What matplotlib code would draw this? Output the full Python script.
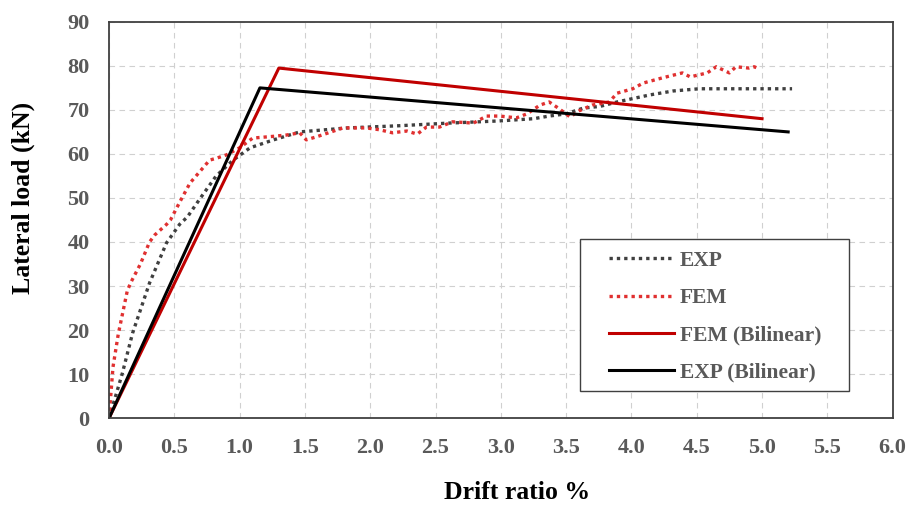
import matplotlib.pyplot as plt
from matplotlib.patches import Rectangle

plt.rcParams['font.family'] = ['Liberation Serif', 'DejaVu Serif']

# experimental curve (drift %, load kN)
exp_x = [0.0, 0.05, 0.1, 0.18, 0.31, 0.44, 0.54, 0.6, 0.7, 0.82, 0.95, 1.08, 1.26, 1.46,
         1.82, 2.22, 2.6, 2.99, 3.25, 3.37, 3.5, 3.63, 3.76, 3.89, 4.14, 4.32, 4.52,
         4.8, 5.0, 5.23]
exp_y = [0.0, 5.0, 10.0, 19.3, 30.7, 39.8, 44.0, 45.7, 50.0, 55.0, 58.6, 61.4, 63.2, 65.0,
         65.9, 66.4, 67.0, 67.5, 68.0, 68.6, 69.1, 70.4, 70.8, 71.8, 73.4, 74.3, 74.8,
         74.8, 74.8, 74.8]

# FEM curve
fem_x = [0.0, 0.01, 0.03, 0.07, 0.14, 0.17, 0.24, 0.31, 0.35, 0.44, 0.47, 0.54, 0.62, 0.77,
         0.82, 0.9, 1.0, 1.1, 1.26, 1.36, 1.46, 1.51, 1.59, 1.79, 1.97, 2.07, 2.17, 2.28,
         2.36, 2.43, 2.53, 2.63, 2.79, 2.89, 2.99, 3.12, 3.2, 3.3, 3.37, 3.44, 3.53, 3.6,
         3.7, 3.83, 3.89, 4.01, 4.09, 4.24, 4.39, 4.45, 4.58, 4.65, 4.7, 4.75, 4.8, 4.9,
         4.94, 4.98]
fem_y = [0.0, 4.0, 11.6, 19.0, 29.0, 31.0, 35.0, 40.0, 41.6, 44.0, 45.0, 49.0, 53.4, 58.6,
         59.0, 59.8, 61.4, 63.6, 64.0, 64.3, 64.8, 63.2, 63.9, 65.9, 65.9, 65.5, 64.8, 65.2,
         64.5, 66.1, 66.1, 67.3, 67.0, 68.6, 68.6, 68.2, 69.1, 71.1, 71.8, 70.4, 68.4, 69.8,
         71.1, 71.8, 73.8, 74.8, 76.1, 77.3, 78.4, 77.5, 78.4, 79.8, 79.1, 78.4, 79.8, 79.5,
         79.8, 79.3]

# bilinear idealisations
fem_bi_x = [0.0, 1.3, 5.0]
fem_bi_y = [0.0, 79.5, 68.0]
exp_bi_x = [0.0, 1.155, 5.2]
exp_bi_y = [0.0, 75.0, 65.0]

fig = plt.figure(figsize=(9.09, 5.08), dpi=100)
ax = fig.add_axes([0.12, 0.177, 0.862, 0.78])

ax.plot(exp_x, exp_y, color='#404040', lw=2.4, ls=(0, (1, 1.2)), label='EXP')
ax.plot(fem_x, fem_y, color='#E03030', lw=2.4, ls=(0, (1, 1.2)), label='FEM')
ax.plot(fem_bi_x, fem_bi_y, color='#C00000', lw=2.2, label='FEM (Bilinear)')
ax.plot(exp_bi_x, exp_bi_y, color='black', lw=2.2, label='EXP (Bilinear)')

ax.set_xlim(0, 6)
ax.set_ylim(0, 90)
ax.set_xticks([i * 0.5 for i in range(13)])
ax.set_yticks(range(0, 91, 10))
ax.set_xticklabels([f"{i * 0.5:.1f}" for i in range(13)])
ax.grid(True, color='#d0d0d0', ls=(0, (5, 4)), lw=0.8)
ax.set_axisbelow(True)
ax.tick_params(length=0, labelsize=16, labelcolor='#595959')
ax.tick_params(axis='x', pad=14)
ax.tick_params(axis='y', pad=14)
for lab in ax.get_xticklabels() + ax.get_yticklabels():
    lab.set_fontweight('bold')
for sp in ax.spines.values():
    sp.set_color('#404040')
    sp.set_linewidth(1.3)

fig.text(0.569, 0.008, 'Drift ratio %', fontsize=18.5, fontweight='bold',
         ha='center', va='bottom')
fig.text(0.026, 0.611, 'Lateral load (kN)', fontsize=18.5, fontweight='bold',
         ha='center', va='center', rotation=90)

# legend box drawn separately (wider side padding than legend frame allows)
ax.add_patch(Rectangle((0.601, 0.068), 0.343, 0.384, transform=ax.transAxes,
                       facecolor='white', edgecolor='#404040', lw=1.0, zorder=4))
leg = ax.legend(loc='upper left', bbox_to_anchor=(0.638, 0.422), frameon=False,
                prop={'weight': 'bold', 'size': 15.5}, labelspacing=0.8,
                handlelength=3.0, borderpad=0, borderaxespad=0, handletextpad=0.3)
leg.set_zorder(5)
for t in leg.get_texts():
    t.set_color('#595959')

fig.savefig('out.png')
